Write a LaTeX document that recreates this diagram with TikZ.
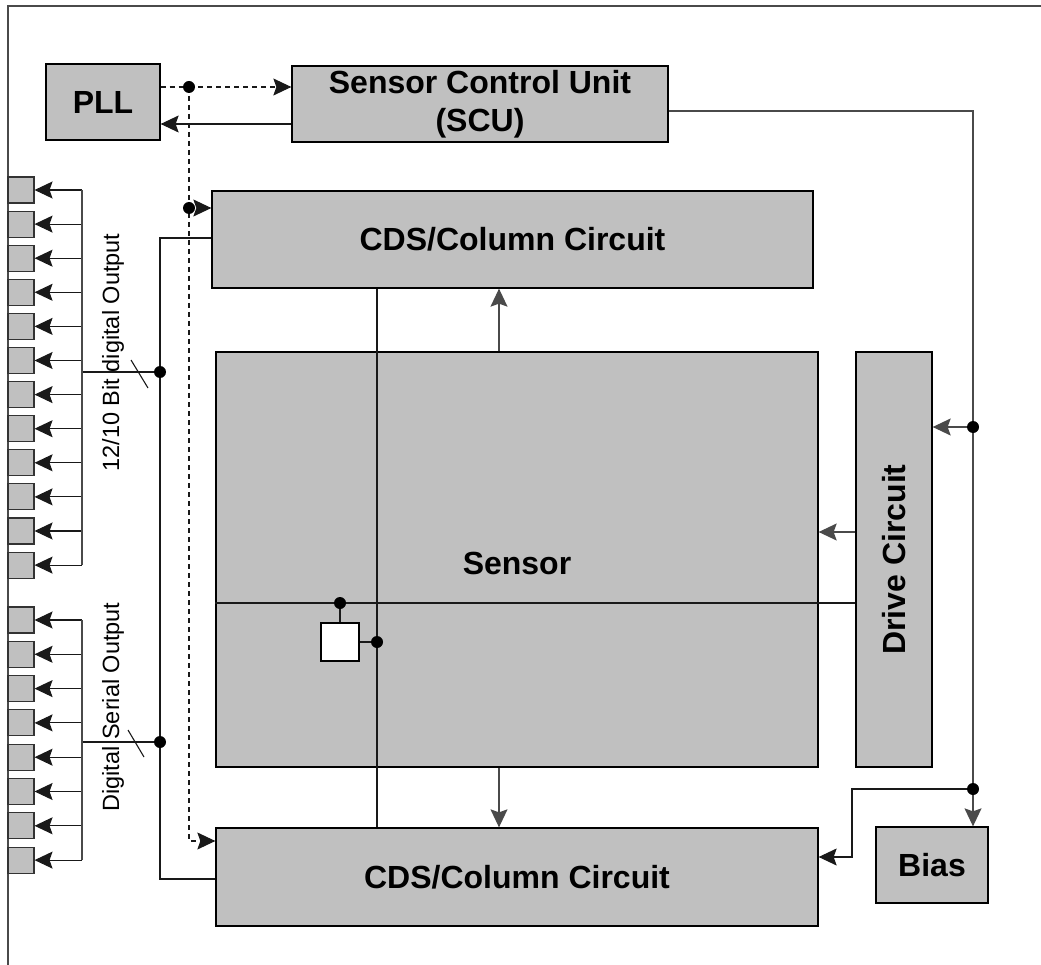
\documentclass[tikz,border=0pt]{standalone}
\usepackage{fontspec}
\setmainfont{Liberation Sans}
\usetikzlibrary{arrows.meta}
\definecolor{boxgray}{HTML}{C0C0C0}
\definecolor{linegray}{HTML}{4A4A4A}
\tikzset{
  blk/.style={draw=black, line width=1.3pt, fill=boxgray, inner sep=0pt, rectangle},
  pin/.style={draw=black!80, line width=1.1pt, fill=boxgray, inner sep=0pt, minimum width=26pt, minimum height=26pt},
  lbl/.style={font=\fontsize{32}{38}\selectfont\bfseries, align=center},
  txt/.style={font=\fontsize{23.5}{28}\selectfont},
  wire/.style={draw=black!90, line width=1.1pt},
  gwire/.style={draw=linegray, line width=1.3pt},
  arr/.style={-{Stealth[length=18pt,width=17pt,inset=3pt]}},
  dsh/.style={wire, dash pattern=on 5pt off 4pt},
  dot/.style={circle, fill=black, inner sep=0pt, minimum size=12pt}
}
\begin{document}
\begin{tikzpicture}[x=1pt,y=-1pt]
\useasboundingbox (0,0) rectangle (1041,965);
% frame
\draw[gwire, line width=1.6pt] (8,965) -- (8,6) -- (1041,6);
% blocks
\node[blk, minimum width=114pt, minimum height=76pt, lbl] (PLL) at (103,102) {PLL};
\node[blk, minimum width=376pt, minimum height=76pt, lbl] (SCU) at (480,104) {Sensor Control Unit\\(SCU)};
\node[blk, minimum width=601pt, minimum height=97pt, lbl] (topCDS) at (512.5,239.5) {CDS/Column Circuit};
\node[blk, minimum width=602pt, minimum height=415pt] (sensor) at (517,559.5) {};
\node[lbl] (sensorlbl) at (517,563) {Sensor};
\node[blk, minimum width=76pt, minimum height=415pt] (drive) at (894,559.5) {};
\node[lbl, rotate=90] (drivelbl) at (894,559.5) {Drive Circuit};
\node[blk, minimum width=602pt, minimum height=98pt, lbl] (botCDS) at (517,877) {CDS/Column Circuit};
\node[blk, minimum width=112pt, minimum height=76pt, lbl] (bias) at (932,865) {Bias};
% coordinates
\coordinate (dA) at (189,87);
\coordinate (dB) at (189,208);
\coordinate (dC) at (189,841);
\coordinate (sA) at (0,124);
\coordinate (rA) at (973,111);
\coordinate (rB) at (973,427);
\coordinate (rC) at (973,789);
\coordinate (rD) at (852,789);
\coordinate (rE) at (852,857);
\coordinate (bT) at (160,238);
\coordinate (bB) at (160,879);
\coordinate (bD1) at (160,372);
\coordinate (bD2) at (160,742);
\coordinate (bH1) at (82,372);
\coordinate (bH2) at (82,742);
\coordinate (vx) at (377,0);
\coordinate (hy) at (0,603);
\coordinate (ax) at (499,0);
\coordinate (dy) at (0,532);
% dashed clock lines
\draw[dsh] (PLL.east|-dA) -- (dA);
\draw[dsh, arr] (dA) -- (SCU.west|-dA);
\draw[dsh, arr] (dA) -- (dC) -- (botCDS.west|-dC);
\draw[dsh, arr] (dB) -- (topCDS.west|-dB);
\node[dot] (nA) at (dA) {};
\node[dot] (nB) at (dB) {};
% SCU -> PLL
\draw[wire, arr] (SCU.west|-sA) -- (PLL.east|-sA);
% SCU control line
\draw[gwire, arr] (SCU.east|-rA) -- (rA) -- (rA|-bias.north);
\draw[gwire, arr] (rB) -- (drive.east|-rB);
\node[dot] (nRB) at (rB) {};
\draw[wire, arr] (rC) -- (rD) -- (rE) -- (botCDS.east|-rE);
\node[dot] (nRC) at (rC) {};
% data bus
\draw[wire] (topCDS.west|-bT) -- (bT) -- (bB) -- (botCDS.west|-bB);
\draw[wire] (bD1) -- (bH1);
\draw[wire] (bD2) -- (bH2);
\node[dot] (nD1) at (bD1) {};
\node[dot] (nD2) at (bD2) {};
\draw[wire] (131,360) -- (148,388);
\draw[wire] (128,730) -- (144,757);
% pins
\foreach \i in {0,...,11} {
  \node[pin] (p\i) at (21,{190+34.1*\i}) {};
  \draw[wire, arr] (82,{190+34.1*\i}) -- (p\i.east);
}
\draw[gwire] (82,190) -- (82,565.1);
\foreach \i in {0,...,7} {
  \node[pin] (q\i) at (21,{620+34.3*\i}) {};
  \draw[wire, arr] (82,{620+34.3*\i}) -- (q\i.east);
}
\draw[gwire] (82,620) -- (82,860.1);
\node[txt, rotate=90] (t1) at (113,352.5) {12/10 Bit digital Output};
\node[txt, rotate=90] (t2) at (113,707) {Digital Serial Output};
% sensor internals
\draw[wire] (vx|-topCDS.south) -- (vx|-botCDS.north);
\draw[wire] (sensor.west|-hy) -- (drive.west|-hy);
\draw[gwire, arr] (ax|-sensor.north) -- (ax|-topCDS.south);
\draw[gwire, arr] (ax|-sensor.south) -- (ax|-botCDS.north);
\draw[gwire, arr] (drive.west|-dy) -- (sensor.east|-dy);
\node[draw=black, line width=1.3pt, fill=white, inner sep=0pt, minimum width=38pt, minimum height=38pt] (pix) at (340,642) {};
\draw[wire] (pix.north|-hy) -- (pix.north);
\draw[wire] (pix.east) -- (vx|-pix.east);
\node[dot] (nP1) at (pix.north|-hy) {};
\node[dot] (nP2) at (vx|-pix.east) {};
\end{tikzpicture}
\end{document}
